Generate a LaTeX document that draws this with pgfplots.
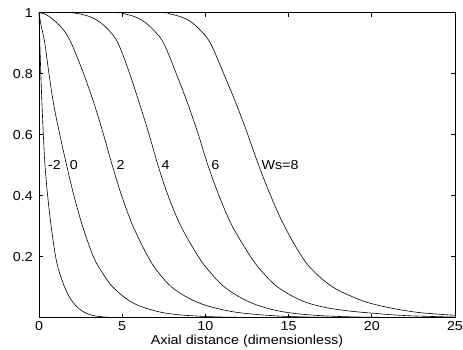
\documentclass[border=0pt]{standalone}
\usepackage{fontspec}
\setmainfont{Liberation Sans}[FakeStretch=1.1]
\usepackage{pgfplots}
\pgfplotsset{compat=1.18}
\begin{document}
\fontsize{13}{15}\selectfont
\begin{tikzpicture}
\path[use as bounding box] (-39pt,-32.3pt) rectangle (424pt,317.7pt);
\begin{axis}[
  at={(0,0)}, anchor=south west,
  scale only axis, width=416pt, height=305pt,
  xmin=0, xmax=25, ymin=0, ymax=1,
  xtick={0,5,10,15,20,25},
  ytick={0.2,0.4,0.6,0.8,1},
  tick align=inside, major tick length=4pt,
  axis line style={line width=0.7pt},
  every tick/.style={black, line width=0.7pt},
  /pgf/number format/assume math mode=true,
  tick label style={font=\fontsize{13}{15}\selectfont},
  xticklabel style={inner sep=0pt, yshift=-4pt},
  yticklabel style={inner sep=0pt, xshift=-6pt},
  xlabel={Axial distance (dimensionless)},
  xlabel style={at={(axis description cs:0.5,0)}, anchor=north, yshift=-17pt, inner sep=0pt, font=\fontsize{13}{15}\selectfont},
  cycle list={{black, solid, mark=none}},
  no markers,
  every axis plot/.append style={black, solid, line width=0.6pt, smooth, tension=0.6},
]
% Ws = -2
\addplot coordinates {(0,1)(0.05,0.9)(0.11,0.8)(0.18,0.7)(0.26,0.6)(0.36,0.5)(0.52,0.4)(0.73,0.3)(1.0,0.2)(1.22,0.15)(1.54,0.1)(1.85,0.066)(2.2,0.04)(2.65,0.02)(3.2,0.008)(4,0.002)(5,0.0003)(7,0)(25,0)};
% Ws = 0
\addplot coordinates {(0,1)(0.12,0.96)(0.35,0.9)(0.6,0.8)(0.88,0.7)(1.25,0.6)(1.66,0.5)(2.1,0.4)(2.62,0.3)(3.27,0.2)(3.78,0.15)(4.45,0.1)(5.5,0.053)(6.67,0.027)(8,0.012)(10,0.004)(12,0.0012)(15,0.0002)(25,0)};
% Ws = 2
\addplot coordinates {(0,1)(0.3,0.997)(0.6,0.988)(0.94,0.973)(1.45,0.945)(1.94,0.9)(2.68,0.8)(3.32,0.7)(3.88,0.6)(4.4,0.5)(4.97,0.4)(5.65,0.3)(6.55,0.2)(7.15,0.15)(7.98,0.1)(9,0.064)(10,0.041)(11.5,0.021)(13,0.011)(15,0.004)(18,0.001)(25,0)};
% Ws = 4
\addplot coordinates {(0,1)(1,1)(2.0,1)(2.45,0.996)(3.0,0.988)(3.55,0.973)(4.15,0.945)(4.75,0.9)(5.45,0.8)(6.05,0.7)(6.62,0.6)(7.15,0.5)(7.76,0.4)(8.53,0.3)(9.58,0.2)(10.27,0.15)(11.16,0.1)(12.5,0.055)(14,0.027)(15.7,0.012)(18,0.004)(21,0.001)(25,0)};
% Ws = 6
\addplot coordinates {(0,1)(2.5,1)(4.7,1)(5.15,0.996)(5.7,0.988)(6.25,0.973)(6.85,0.945)(7.49,0.9)(8.25,0.8)(8.95,0.7)(9.58,0.6)(10.15,0.5)(10.82,0.4)(11.62,0.3)(12.72,0.2)(13.42,0.15)(14.36,0.1)(15.7,0.058)(17,0.036)(18.5,0.023)(20,0.015)(22,0.007)(25,0.002)};
% Ws = 8
\addplot coordinates {(0,1)(4,1)(7.4,1)(7.85,0.996)(8.45,0.988)(9.05,0.973)(9.65,0.945)(10.3,0.9)(11.1,0.8)(11.86,0.7)(12.55,0.6)(13.2,0.5)(13.92,0.4)(14.75,0.3)(15.8,0.2)(16.55,0.15)(17.67,0.1)(19,0.065)(20,0.046)(21.5,0.028)(23,0.016)(25,0.008)};
\node[anchor=west, inner sep=0pt] at (axis cs:0.54,0.5) {-2};
\node[anchor=west, inner sep=0pt] at (axis cs:1.84,0.5) {0};
\node[anchor=west, inner sep=0pt] at (axis cs:4.65,0.5) {2};
\node[anchor=west, inner sep=0pt] at (axis cs:7.35,0.5) {4};
\node[anchor=west, inner sep=0pt] at (axis cs:10.35,0.5) {6};
\node[anchor=west, inner sep=0pt] at (axis cs:13.36,0.5) {Ws=8};
\end{axis}
\end{tikzpicture}
\end{document}
